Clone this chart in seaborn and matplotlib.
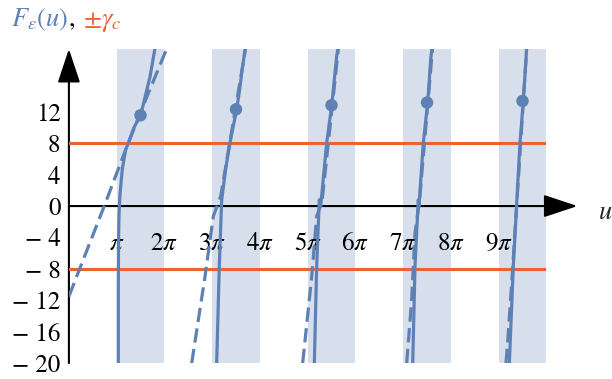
import numpy as np
import pandas as pd
import seaborn as sns
import matplotlib.pyplot as plt

# curve branches, u in units of pi
solid_u = [
    [1.035, 1.035, 1.04, 1.05, 1.07, 1.118, 1.19, 1.244, 1.363, 1.504, 1.62, 1.70, 1.80],
    [3.095, 3.15, 3.20, 3.29, 3.374, 3.45, 3.514, 3.58, 3.62, 3.70],
    [5.139, 5.189, 5.244, 5.273, 5.399, 5.504, 5.608, 5.642],
    [7.20, 7.248, 7.317, 7.332, 7.422, 7.514, 7.577, 7.61],
    [9.223, 9.307, 9.378, 9.447, 9.516, 9.573, 9.587],
]
solid_F = [
    [-20, -10, -4, -1, 1.5, 4.7, 7.2, 8.0, 10.0, 11.6, 14.5, 16.5, 20],
    [-20, -7.6, 0.8, 5.0, 8.07, 10.4, 12.3, 15.0, 17.0, 20.4],
    [-20.2, -7.7, 0.8, 0, 8.07, 12.84, 19.1, 20.4],
    [-20.2, -7.7, 0.8, 0, 8.07, 13.18, 18.7, 20.5],
    [-20.2, -7.7, 0.4, 8.07, 13.38, 18.7, 20.5],
]
dashed_u = [
    [0.0, 0.74, 1.19, 1.53, 2.06],
    [2.572, 2.85, 3.024, 3.179, 3.71],
    [4.896, 5.085, 5.189, 5.30, 5.65],
    [7.074, 7.179, 7.248, 7.34, 7.62],
    [9.154, 9.202, 9.273, 9.38, 9.59],
]
dashed_F = [
    [-11.5, 0.0, 7.2, 12.4, 20.2],
    [-20, -9.0, -1.3, 1.25, 20.4],
    [-20, -9.0, -1.3, 0.5, 20.4],
    [-20, -11.9, -3.4, 0.5, 20.4],
    [-20, -16.2, -9.8, 0.3, 20.4],
]
dot_u = [1.5, 3.5, 5.5, 7.5, 9.5]
dot_F = [11.56, 12.32, 12.84, 13.18, 13.38]
gamma_c = 8
band_starts = [1, 3, 5, 7, 9]
xtick_vals = [1, 2, 3, 4, 5, 6, 7, 8, 9]
xtick_labels = [r'$\pi$'] + [r'$%d\pi$' % k for k in xtick_vals[1:]]
ytick_vals = [-20, -16, -12, -8, -4, 0, 4, 8, 12]
ytick_labels = ['\u2212 20', '\u2212 16', '\u2212 12', '\u2212 8', '\u2212 4', '0', '4', '8', '12']

blue = '#5E81B5'
orange = '#EB6235'
band = '#D7DFEC'

sns.set_style('white')
plt.rcParams['font.family'] = ['STIXGeneral', 'DejaVu Serif']
plt.rcParams['mathtext.fontset'] = 'stix'

fig = plt.figure(figsize=(6.12, 3.79), dpi=100)
ax = fig.add_axes([68.9 / 612, 15.9 / 379, 477.5 / 612, 314.1 / 379])
ax.set_xlim(0, 10 * np.pi)
ax.set_ylim(-20, 20)
for s in ax.spines.values():
    s.set_visible(False)

for b in band_starts:
    ax.axvspan(b * np.pi, (b + 1) * np.pi, color=band, lw=0, zorder=0)

# axes with arrowheads
arrow = dict(arrowstyle='-|>,head_length=2.1,head_width=0.7', lw=1.5,
             color='black', shrinkA=0, shrinkB=0)
ax.annotate('', xy=(10.65 * np.pi, 0), xytext=(0, 0), arrowprops=arrow,
            annotation_clip=False, zorder=1)
ax.annotate('', xy=(0, 20), xytext=(0, -20), arrowprops=arrow,
            annotation_clip=False, zorder=1)

for g in (gamma_c, -gamma_c):
    ax.axhline(g, color=orange, lw=2.2, zorder=2)

for us, fs in zip(solid_u, solid_F):
    d = pd.DataFrame({'u': np.array(us) * np.pi, 'F': fs})
    sns.lineplot(data=d, x='u', y='F', sort=False, estimator=None, ax=ax,
                 color=blue, lw=2.3, zorder=3)
for us, fs in zip(dashed_u, dashed_F):
    d = pd.DataFrame({'u': np.array(us) * np.pi, 'F': fs})
    sns.lineplot(data=d, x='u', y='F', sort=False, estimator=None, ax=ax,
                 color=blue, lw=2.3, dashes=False, zorder=3,
                 linestyle=(0, (4.5, 2)))
dots = pd.DataFrame({'u': np.array(dot_u) * np.pi, 'F': dot_F})
sns.scatterplot(data=dots, x='u', y='F', ax=ax, color=blue, s=80,
                edgecolor='none', zorder=4)

ax.set_xticks(np.array(xtick_vals) * np.pi)
ax.set_xticklabels(xtick_labels)
ax.set_yticks(ytick_vals)
ax.set_yticklabels(ytick_labels)
ax.spines['bottom'].set_position(('data', 0))
ax.tick_params(axis='both', direction='in', length=6, width=1.5,
               labelsize=18, colors='black')
ax.tick_params(axis='x', pad=19)
ax.tick_params(axis='y', pad=6)
ax.set_xlabel('')
ax.set_ylabel('')

fig.text(598 / 612, 1 - 213 / 379, r'$u$', fontsize=19, va='center')
fig.text(11 / 612, 1 - 26 / 379, r'$F_\varepsilon(u)$', color=blue,
         fontsize=19, va='baseline')
fig.text(69 / 612, 1 - 26 / 379, ',', color='black', fontsize=19, va='baseline')
fig.text(83 / 612, 1 - 26 / 379, r'$\pm\gamma_c$', color=orange,
         fontsize=19, va='baseline')

fig.savefig('out.png', dpi=100)
